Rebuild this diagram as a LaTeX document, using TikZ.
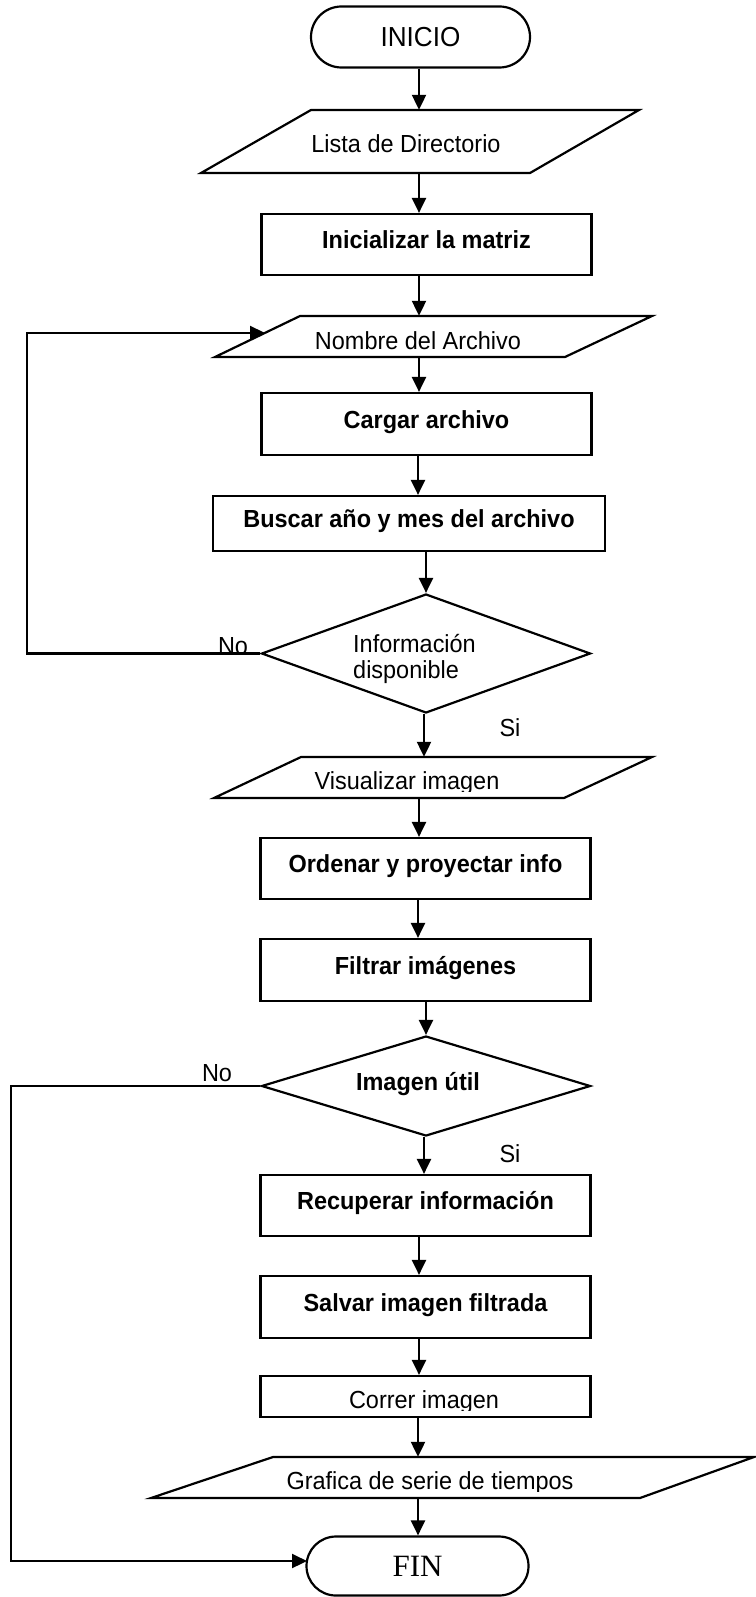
\documentclass[tikz,border=0pt]{standalone}
\usepackage{fontspec}
\setmainfont{Liberation Sans}[FakeStretch=0.95]
\newfontfamily\finfont{Liberation Serif}
\usetikzlibrary{shapes.geometric,shapes.misc,arrows.meta}
\begin{document}
\begin{tikzpicture}[x=1pt,y=-1pt,
  every node/.style={inner sep=0pt, font=\fontsize{24.7}{28}\selectfont},
  proc/.style={draw, line width=2.2pt, rectangle, minimum width=330pt,
    text height=18pt, text depth=10pt, font=\bfseries\fontsize{24.7}{28}\selectfont},
  plainproc/.style={draw, line width=2.2pt, rectangle, minimum width=330pt},
  term/.style={draw, line width=2.2pt, rounded rectangle},
  io/.style={draw, line width=2.2pt, line join=miter},
  dec/.style={draw, line width=2.2pt, diamond, minimum width=329pt},
  arr/.style={line width=2.2pt, -{Triangle[length=15pt,width=14pt]}},
  boldtxt/.style={font=\bfseries\fontsize{24.7}{28}\selectfont}
]
\useasboundingbox (0,0) rectangle (755,1597);
\fill[white] (0,0) rectangle (755,1597);

% column coordinates
\coordinate (c419) at (419,0);
\coordinate (c418) at (418,0);
\coordinate (c426) at (426,0);
\coordinate (c424) at (424,0);
\coordinate (cx27) at (27,0);
\coordinate (cx11) at (11,0);

% INICIO
\node[term, minimum width=219pt, minimum height=61pt] (inicio) at (420.5,37) {\fontsize{27.5}{30}\selectfont INICIO};

% Lista de Directorio
\node[minimum width=438pt, minimum height=63pt] (lista) at (420,141.5) {};
\draw[io] (311,110) -- (639,110) -- (530,173) -- (201,173) -- cycle;
\node[anchor=base] (listat) at (406,153) {Lista de Directorio};

% Inicializar
\node[proc, minimum height=61pt] (inic) at (426.5,244.5) {Inicializar la matriz};

% Nombre del Archivo
\node[minimum width=437pt, minimum height=41pt] (nombre) at (433.5,336.5) {};
\draw[io] (300,316) -- (652,316) -- (565,357) -- (215,357) -- cycle;
\begin{scope}
  \clip (0,0) rectangle (755,350.5);
  \node[anchor=base] (nombret) at (418,349) {Nombre del Archivo};
\end{scope}
\coordinate (nin) at (265,333);

% Cargar
\node[proc, minimum height=62pt] (cargar) at (426.5,424) {Cargar archivo};

% Buscar
\node[proc, minimum width=392pt, minimum height=55pt] (buscar) at (409,523.5) {Buscar año y mes del archivo};

% Decision 1
\node[dec, minimum height=119pt] (d1) at (426,653.5) {};
\node[anchor=base west] (d1a) at (353,652) {Información};
\node[anchor=base west] (d1b) at (353,678) {disponible};

% Visualizar imagen
\node[minimum width=438pt, minimum height=41pt] (visual) at (433,777.5) {};
\draw[io] (301,757) -- (652,757) -- (564,798) -- (214,798) -- cycle;
\begin{scope}
  \clip (0,0) rectangle (755,791.5);
  \node[anchor=base] (visualt) at (407,789) {Visualizar imagen};
\end{scope}

% Ordenar
\node[proc, minimum height=61pt] (ordenar) at (425.5,868.5) {Ordenar y proyectar info};

% Filtrar
\node[proc, minimum height=62pt] (filtrar) at (425.5,970) {Filtrar imágenes};

% Decision 2
\node[dec, minimum height=100pt] (d2) at (426,1086) {};
\node[anchor=base, boldtxt] (d2t) at (418,1090) {Imagen útil};

% Recuperar
\node[proc, minimum height=61pt] (recup) at (425.5,1205.5) {Recuperar información};

% Salvar
\node[proc, minimum height=62pt] (salvar) at (425.5,1307) {Salvar imagen filtrada};

% Correr imagen
\node[plainproc, minimum height=41pt] (correr) at (425.5,1396.5) {};
\begin{scope}
  \clip (0,0) rectangle (755,1410.5);
  \node[anchor=base] (correrrt) at (424,1408) {Correr imagen};
\end{scope}

% Grafica
\node[minimum width=603pt, minimum height=41pt] (grafica) at (452.5,1477.5) {};
\draw[io] (273,1457) -- (754,1457) -- (640,1498) -- (151,1498) -- cycle;
\begin{scope}
  \clip (0,0) rectangle (755,1491);
  \node[anchor=base] (graficat) at (430,1489) {Grafica de serie de tiempos};
\end{scope}

% FIN
\node[term, minimum width=222pt, minimum height=59pt] (fin) at (417.5,1566) {\finfont\fontsize{31}{36}\selectfont FIN};
\coordinate (finin) at (307,1561);

% main flow
\draw[arr] (inicio.south -| c419) -- (lista.north -| c419);
\draw[arr] (lista.south -| c419) -- (inic.north -| c419);
\draw[arr] (inic.south -| c419) -- (nombre.north -| c419);
\draw[arr] (nombre.south -| c419) -- (cargar.north -| c419);
\draw[arr] (cargar.south -| c418) -- (buscar.north -| c418);
\draw[arr] (buscar.south -| c426) -- (d1.north);
\draw[arr] (d1.south -| c424) -- (visual.north -| c424);
\draw[arr] (visual.south -| c419) -- (ordenar.north -| c419);
\draw[arr] (ordenar.south -| c418) -- (filtrar.north -| c418);
\draw[arr] (filtrar.south -| c426) -- (d2.north);
\draw[arr] (d2.south -| c424) -- (recup.north -| c424);
\draw[arr] (recup.south -| c419) -- (salvar.north -| c419);
\draw[arr] (salvar.south -| c419) -- (correr.north -| c419);
\draw[arr] (correr.south -| c418) -- (grafica.north -| c418);
\draw[arr] (grafica.south -| c418) -- (fin.north -| c418);

% loops
\draw[arr] (d1.west) -- (cx27 |- d1.west) |- (nin);
\draw[arr] (d2.west) -- (cx11 |- d2.west) |- (finin);

% labels
\node[anchor=base] (no1) at (233,654) {No};
\node[anchor=base] (si1) at (510,736) {Si};
\node[anchor=base] (no2) at (217,1081) {No};
\node[anchor=base] (si2) at (510,1162) {Si};
\end{tikzpicture}
\end{document}
